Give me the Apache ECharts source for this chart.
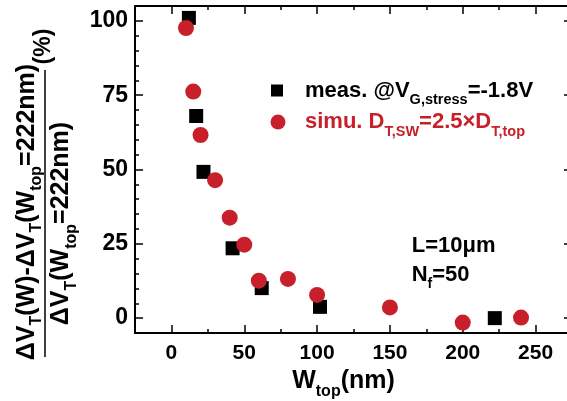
<!DOCTYPE html>
<html><head><meta charset="utf-8">
<script src="https://cdn.jsdelivr.net/npm/echarts@6/dist/echarts.min.js"></script>
<style>html,body{margin:0;padding:0;background:#fff}#c{width:567px;height:401px}</style>
</head><body><div id="c"></div>
<script>
// ---- data ----
const measW = [12, 17, 22, 42, 62, 102, 222];
const measY = [101.0, 68.0, 49.2, 23.5, 10.1, 3.8, 0.0];
const simuW = [10, 15, 20, 30, 40, 50, 60, 80, 100, 150, 200, 240];
const simuY = [97.6, 76.2, 61.6, 46.4, 33.8, 24.7, 12.6, 13.2, 7.8, 3.6, -1.5, 0.2];
const xTicks = [0, 50, 100, 150, 200, 250];
const xMinorTicks = [25, 75, 125, 175, 225];
const yTicks = [0, 25, 50, 75, 100];
const yMinorTicks = [5, 10, 15, 20, 30, 35, 40, 45, 55, 60, 65, 70, 80, 85, 90, 95];
const measName = 'meas';
const simuName = 'simu';

// ---- style ----
const FONT = 'Liberation Sans, Arial, Helvetica, sans-serif';
const RED = '#c8202b';
const BLACK = '#000';

function richSet(color, main, sub, lh) {
  return {
    g: { width: 17, fontSize: main, lineHeight: lh },
    m: { fontFamily: FONT, fontWeight: 'bold', fontSize: main, lineHeight: lh, color: color },
    s: { fontFamily: FONT, fontWeight: 'bold', fontSize: sub, lineHeight: sub, verticalAlign: 'bottom', color: color }
  };
}

const tickLine = { color: BLACK, width: 1.5 };
function xAxisDef(pos, major) {
  return {
    type: 'value', position: pos, min: -25, max: 275,
    axisLine: { show: major, onZero: false, lineStyle: { color: BLACK, width: 2 } },
    splitLine: { show: false },
    axisTick: { inside: true, length: major ? 8 : 4, customValues: major ? xTicks : xMinorTicks, lineStyle: tickLine },
    axisLabel: { show: false }
  };
}
function yAxisDef(pos, major) {
  return {
    type: 'value', position: pos, min: -5, max: 105,
    axisLine: { show: major, onZero: false, lineStyle: { color: BLACK, width: 2 } },
    splitLine: { show: false },
    axisTick: { inside: true, length: major ? 8 : 4, customValues: major ? yTicks : yMinorTicks, lineStyle: tickLine },
    axisLabel: { show: false }
  };
}

const xMain = xAxisDef('bottom', true);
xMain.axisLabel = { show: true, customValues: xTicks, margin: 10, fontSize: 21, fontWeight: 'bold', color: BLACK, fontFamily: FONT };
xMain.name = '{m|W}{s|top}{m|(nm)}';
xMain.nameLocation = 'middle';
xMain.nameGap = 29;
xMain.nameTextStyle = { padding: [0, 20, 0, 0], rich: richSet(BLACK, 25, 16, 36) };

const yMain = yAxisDef('left', true);
yMain.axisLabel = { show: true, customValues: yTicks, margin: 7, fontSize: 23, fontWeight: 'bold', color: BLACK, fontFamily: FONT };

const rot = Math.PI / 2;
function vtext(x, y, text, size, sub) {
  return {
    type: 'text', x: x, y: y, rotation: rot,
    style: {
      text: text, align: 'center', verticalAlign: 'middle', textAlign: 'center', textVerticalAlign: 'middle',
      rich: richSet(BLACK, size, sub, 36)
    }
  };
}

const legendRich1 = richSet(BLACK, 22, 14.5, 34);
legendRich1.g.width = 17;
const legendRich2 = richSet(RED, 22, 14.5, 34);
legendRich2.g.width = 14.5;

const option = {
  animation: false,
  backgroundColor: '#fff',
  grid: { left: 135, right: -5, top: 6, bottom: 68, containLabel: false, outerBoundsMode: 'none' },
  xAxis: [xMain, xAxisDef('bottom', false), xAxisDef('top', true), xAxisDef('top', false)],
  yAxis: [yMain, yAxisDef('left', false), yAxisDef('right', true), yAxisDef('right', false)],
  legend: [
    { data: [measName], orient: 'vertical', left: 271, top: 79.5, padding: 0, itemWidth: 12, itemHeight: 12,
      icon: 'rect', formatter: () => '{g| }{m|meas. @V}{s|G,stress}{m|=-1.8V}',
      textStyle: { rich: legendRich1 } },
    { data: [simuName], orient: 'vertical', left: 270.5, top: 111, padding: 0, itemWidth: 15, itemHeight: 15,
      icon: 'circle', formatter: () => '{g| }{m|simu. D}{s|T,SW}{m|=2.5×D}{s|T,top}',
      textStyle: { rich: legendRich2 } }
  ],
  graphic: [
    vtext(27, 212, '{m|ΔV}{s|T}{m|(W)-ΔV}{s|T}{m|(W}{s|top}{m|=222nm)}', 25, 16),
    vtext(61.3, 223.5, '{m|ΔV}{s|T}{m|(W}{s|top}{m|=222nm)}', 25, 16),
    vtext(43.5, 46.5, '{m|(%)}', 23, 16),
    { type: 'line', shape: { x1: 45, y1: 70, x2: 45, y2: 357 }, style: { stroke: BLACK, lineWidth: 1.5 } },
    { type: 'text', x: 411.7, y: 245.5,
      style: { text: '{m|L=10μm}', align: 'left', verticalAlign: 'middle', textAlign: 'left', textVerticalAlign: 'middle', rich: richSet(BLACK, 22, 14, 34) } },
    { type: 'text', x: 411.7, y: 274.5,
      style: { text: '{m|N}{s|f}{m|=50}', align: 'left', verticalAlign: 'middle', textAlign: 'left', textVerticalAlign: 'middle', rich: richSet(BLACK, 22, 14, 34) } }
  ],
  series: [
    { name: measName, type: 'scatter', xAxisIndex: 0, yAxisIndex: 0, symbol: 'rect', symbolSize: 14,
      itemStyle: { color: BLACK, opacity: 1 }, z: 2,
      data: measW.map((w, i) => [w, measY[i]]) },
    { name: simuName, type: 'scatter', xAxisIndex: 0, yAxisIndex: 0, symbol: 'circle', symbolSize: 16,
      itemStyle: { color: RED, opacity: 1 }, z: 3,
      data: simuW.map((w, i) => [w, simuY[i]]) }
  ]
};
const chart = echarts.init(document.getElementById('c'), null, { renderer: 'canvas' });
chart.setOption(option);
</script>
</body></html>
